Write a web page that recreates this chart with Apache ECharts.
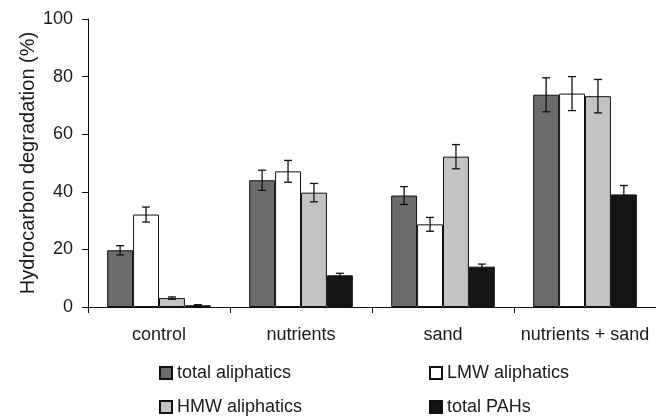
<!DOCTYPE html>
<html>
<head>
<meta charset="utf-8">
<script src="https://cdn.jsdelivr.net/npm/echarts@6/dist/echarts.min.js"></script>
<style>html,body{margin:0;padding:0;background:#fff}#c{width:656px;height:416px}</style>
</head>
<body>
<div id="c"></div>
<script>
var categories = ['control', 'nutrients', 'sand', 'nutrients + sand'];
var seriesNames = ['total aliphatics', 'LMW aliphatics', 'HMW aliphatics', 'total PAHs'];
var totalAliphatics = [19.7, 44.0, 38.7, 73.7];
var lmwAliphatics = [32.1, 47.1, 28.7, 74.1];
var hmwAliphatics = [3.1, 39.7, 52.2, 73.2];
var totalPAHs = [0.6, 11.0, 14.0, 39.1];
var totalAliphaticsErr = [1.6, 3.5, 3.1, 5.9];
var lmwAliphaticsErr = [2.6, 3.8, 2.4, 5.9];
var hmwAliphaticsErr = [0.4, 3.2, 4.2, 5.8];
var totalPAHsErr = [0.2, 0.7, 0.9, 3.1];
var yTicks = [0, 20, 40, 60, 80, 100];

var values = [totalAliphatics, lmwAliphatics, hmwAliphatics, totalPAHs];
var errs = [totalAliphaticsErr, lmwAliphaticsErr, hmwAliphaticsErr, totalPAHsErr];
var colors = ['#6c6c6c', '#ffffff', '#c3c3c3', '#141414'];
var catGap = 0.27;
var font = 'Liberation Sans, Arial, sans-serif';

var series = [];
values.forEach(function (v, i) {
  series.push({
    name: seriesNames[i], type: 'bar', data: v,
    barGap: '0%', barCategoryGap: (catGap * 100) + '%',
    itemStyle: { color: colors[i], borderColor: '#111', borderWidth: 1 },
    silent: true
  });
});
values.forEach(function (v, i) {
  series.push({
    type: 'custom', z: 10, silent: true,
    data: v.map(function (val, k) { return [k, val, errs[i][k]]; }),
    renderItem: function (params, api) {
      var k = api.value(0), val = api.value(1), e = api.value(2);
      var cw = api.size([1, 0])[0];
      var bw = cw * (1 - catGap) / 4;
      var off = (i - 1.5) * bw;
      var top = api.coord([k, val + e]);
      var bot = api.coord([k, val - e]);
      var x = top[0] + off;
      var cap = 4;
      var st = { stroke: '#111', lineWidth: 1.3 };
      return { type: 'group', children: [
        { type: 'line', shape: { x1: x, y1: top[1], x2: x, y2: bot[1] }, style: st },
        { type: 'line', shape: { x1: x - cap, y1: top[1], x2: x + cap, y2: top[1] }, style: st },
        { type: 'line', shape: { x1: x - cap, y1: bot[1], x2: x + cap, y2: bot[1] }, style: st }
      ]};
    }
  });
});

function mkLegend(name, left, top) {
  return {
    data: [name], left: left, top: top, icon: 'rect', itemWidth: 12, itemHeight: 12,
    padding: 0, selectedMode: false,
    textStyle: { fontFamily: font, fontSize: 18, color: '#1a1a1a' }
  };
}

var chart = echarts.init(document.getElementById('c'));
chart.setOption({
  animation: false,
  grid: { left: 88, right: -4, top: 19, bottom: 109, containLabel: false },
  legend: [
    mkLegend(seriesNames[0], 159, 364),
    mkLegend(seriesNames[2], 159, 398),
    mkLegend(seriesNames[1], 429, 364),
    mkLegend(seriesNames[3], 429, 398)
  ],
  xAxis: {
    type: 'category', data: categories,
    axisLine: { lineStyle: { color: '#111', width: 1 } },
    axisTick: { show: true, length: 6, lineStyle: { color: '#111' } },
    axisLabel: { fontFamily: font, fontSize: 18, color: '#1a1a1a', margin: 19, interval: 0 }
  },
  yAxis: {
    type: 'value', min: yTicks[0], max: yTicks[yTicks.length - 1], interval: 20,
    name: 'Hydrocarbon degradation (%)', nameLocation: 'middle', nameGap: 50,
    nameMoveOverlap: false,
    nameTextStyle: { fontFamily: font, fontSize: 20, color: '#1a1a1a' },
    axisLine: { show: true, lineStyle: { color: '#111', width: 1 } },
    axisTick: { show: true, length: 6, lineStyle: { color: '#111' } },
    splitLine: { show: false },
    axisLabel: { fontFamily: font, fontSize: 18, color: '#1a1a1a', margin: 15 }
  },
  series: series
});
</script>
</body>
</html>
